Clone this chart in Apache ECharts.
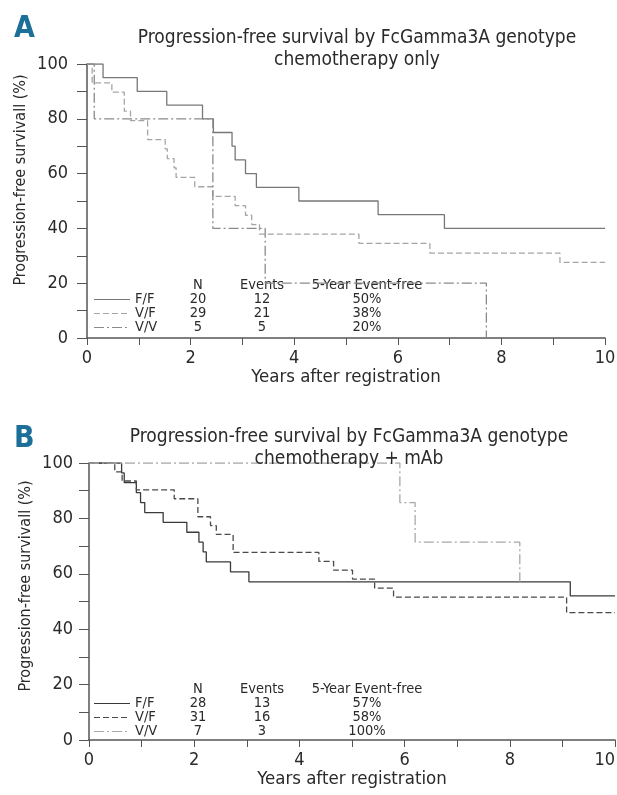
<!DOCTYPE html>
<html>
<head>
<meta charset="utf-8">
<script src="https://cdn.jsdelivr.net/npm/echarts@6/dist/echarts.min.js"></script>
<style>
  html, body { margin: 0; padding: 0; background: #fff; }
  #chart { width: 617px; height: 795px; }
</style>
</head>
<body>
<div id="chart"></div>
<script>
// panel A: chemotherapy only
const ffTimeA = [0, 0.31, 0.97, 1.54, 2.23, 2.44, 2.80, 2.86, 3.06, 3.27, 4.09, 5.62, 6.90, 10];
const ffSurvA = [100, 95, 90, 85, 80, 75, 70, 65, 60, 55, 50, 45, 40, 40];
const vfTimeA = [0, 0.10, 0.48, 0.72, 0.84, 1.17, 1.51, 1.55, 1.68, 1.72, 2.08, 2.43, 2.86, 3.06, 3.18, 3.33, 5.25, 6.62, 9.13, 10];
const vfSurvA = [100, 93.1, 89.7, 82.8, 79.3, 72.4, 69.0, 65.5, 62.1, 58.6, 55.2, 51.7, 48.3, 44.8, 41.4, 37.9, 34.5, 31.0, 27.6, 27.6];
const vvTimeA = [0, 0.14, 2.43, 3.44, 7.71];
const vvSurvA = [100, 80, 40, 20, 0];

// panel B: chemotherapy + mAb
const ffTimeB = [0, 0.62, 0.67, 0.90, 0.98, 1.06, 1.41, 1.86, 2.09, 2.17, 2.23, 2.69, 3.04, 9.15, 10];
const ffSurvB = [100, 96.4, 92.9, 89.3, 85.7, 82.1, 78.6, 75.0, 71.4, 67.9, 64.3, 60.7, 57.1, 52.0, 52.0];
const vfTimeB = [0, 0.49, 0.63, 0.90, 1.62, 2.07, 2.31, 2.42, 2.74, 4.37, 4.65, 5.01, 5.43, 5.79, 9.08, 10];
const vfSurvB = [100, 96.8, 93.5, 90.3, 87.1, 80.6, 77.4, 74.2, 67.7, 64.5, 61.3, 58.1, 54.8, 51.6, 46.0, 46.0];
const vvTimeB = [0, 5.91, 6.20, 8.19];
const vvSurvB = [100, 85.7, 71.4, 57.1];

// legend tables
const genotypes = ['F/F', 'V/F', 'V/V'];
const nA = ['20', '29', '5'];
const eventsA = ['12', '21', '5'];
const fiveYearA = ['50%', '38%', '20%'];
const nB = ['28', '31', '7'];
const eventsB = ['13', '16', '3'];
const fiveYearB = ['57%', '58%', '100%'];

const FONT = "'DejaVu Sans Condensed', Roboto, sans-serif";
const TXT = '#2a2a2a';
const AX = '#555';

const pairs = (t, s) => t.map((x, i) => [x, s[i]]);

const chart = echarts.init(document.getElementById('chart'));

function xAx(idx, alignMax) {
  return {
    type: 'value', gridIndex: idx, min: 0, max: 10, interval: 2,
    name: 'Years after registration', nameLocation: 'middle', nameGap: 30,
    nameTextStyle: { fontFamily: FONT, fontSize: 18.5, color: TXT },
    axisLine: { lineStyle: { color: AX, width: 1.5 } },
    axisTick: { length: 7, lineStyle: { color: AX } },
    minorTick: { show: true, splitNumber: 2, length: 7, lineStyle: { color: AX } },
    axisLabel: { fontFamily: FONT, fontSize: 18, color: TXT, margin: 11, alignMaxLabel: alignMax },
    splitLine: { show: false }
  };
}
function yAx(idx, margin) {
  return {
    type: 'value', gridIndex: idx, min: 0, max: 100, interval: 20,
    axisLine: { show: true, lineStyle: { color: AX, width: 1.5 } },
    axisTick: { show: true, length: 10, lineStyle: { color: AX } },
    minorTick: { show: true, splitNumber: 2, length: 10, lineStyle: { color: AX } },
    axisLabel: { fontFamily: FONT, fontSize: 18, color: TXT, margin: margin },
    splitLine: { show: false }
  };
}
function km(name, idx, data, color, type) {
  return {
    name: name, type: 'line', step: 'end', xAxisIndex: idx, yAxisIndex: idx,
    data: data, symbol: 'none', animation: false,
    lineStyle: { color: color, width: 1.3, type: type }
  };
}

const DASH = [6, 3];
const DASHDOT = [10, 3, 2, 3];

// legend table as text graphics
function table(top, nArr, evArr, fyArr, colors, types) {
  const els = [];
  const t = (x, y, s, align) => els.push({
    type: 'text', x: x, y: y,
    style: { text: s, fontFamily: FONT, fontSize: 14.5, fill: TXT, align: align || 'center', verticalAlign: 'middle' }
  });
  t(198, top, 'N'); t(262, top, 'Events'); t(367, top, '5-Year Event-free');
  for (let i = 0; i < 3; i++) {
    const y = top + 14.5 + i * 14;
    els.push({
      type: 'line', shape: { x1: 94, y1: y, x2: 130, y2: y },
      style: { stroke: colors[i], lineWidth: 1.2, lineDash: types[i] === 'solid' ? null : types[i] }
    });
    t(135, y, genotypes[i], 'left');
    t(198, y, nArr[i]); t(262, y, evArr[i]); t(367, y, fyArr[i]);
  }
  return els;
}

const colA = ['#777', '#a5a5a5', '#8a8a8a'];
const colB = ['#3a3a3a', '#4a4a4a', '#a8a8a8'];
const styles = ['solid', DASH, DASHDOT];

chart.setOption({
  backgroundColor: '#fff',
  animation: false,
  title: [
    { text: 'Progression-free survival by FcGamma3A genotype\nchemotherapy only', left: 352, top: 22, textAlign: 'center',
      textStyle: { fontFamily: FONT, fontSize: 19, fontWeight: 'normal', color: TXT, lineHeight: 22 } },
    { text: 'Progression-free survival by FcGamma3A genotype\nchemotherapy + mAb', left: 344, top: 421, textAlign: 'center',
      textStyle: { fontFamily: FONT, fontSize: 19, fontWeight: 'normal', color: TXT, lineHeight: 22 } }
  ],
  grid: [
    { left: 87, right: 12, top: 64, bottom: 457, outerBoundsMode: 'none' },
    { left: 89, right: 2, top: 463, bottom: 55, outerBoundsMode: 'none' }
  ],
  xAxis: [xAx(0, null), xAx(1, 'right')],
  yAxis: [yAx(0, 19), yAx(1, 16)],
  series: [
    km('F/F', 0, pairs(ffTimeA, ffSurvA), colA[0], 'solid'),
    km('V/F', 0, pairs(vfTimeA, vfSurvA), colA[1], DASH),
    km('V/V', 0, pairs(vvTimeA, vvSurvA), colA[2], DASHDOT),
    km('F/F', 1, pairs(ffTimeB, ffSurvB), colB[0], 'solid'),
    km('V/F', 1, pairs(vfTimeB, vfSurvB), colB[1], DASH),
    km('V/V', 1, pairs(vvTimeB, vvSurvB), colB[2], DASHDOT)
  ],
  graphic: [
    { type: 'text', x: 14, y: 14, style: { text: 'A', fontFamily: FONT, fontSize: 30, fontWeight: 'bold', fill: '#1b6f98' } },
    { type: 'text', x: 14, y: 424, style: { text: 'B', fontFamily: FONT, fontSize: 30, fontWeight: 'bold', fill: '#1b6f98' } },
    { type: 'text', x: 21, y: 180, rotation: Math.PI / 2,
      style: { text: 'Progression-free survivall (%)', fontFamily: FONT, fontSize: 16, fill: TXT, align: 'center', verticalAlign: 'middle' } },
    { type: 'text', x: 26, y: 586, rotation: Math.PI / 2,
      style: { text: 'Progression-free survivall (%)', fontFamily: FONT, fontSize: 16, fill: TXT, align: 'center', verticalAlign: 'middle' } }
  ].concat(table(285, nA, eventsA, fiveYearA, colA, styles))
   .concat(table(689, nB, eventsB, fiveYearB, colB, styles))
});
</script>
</body>
</html>
